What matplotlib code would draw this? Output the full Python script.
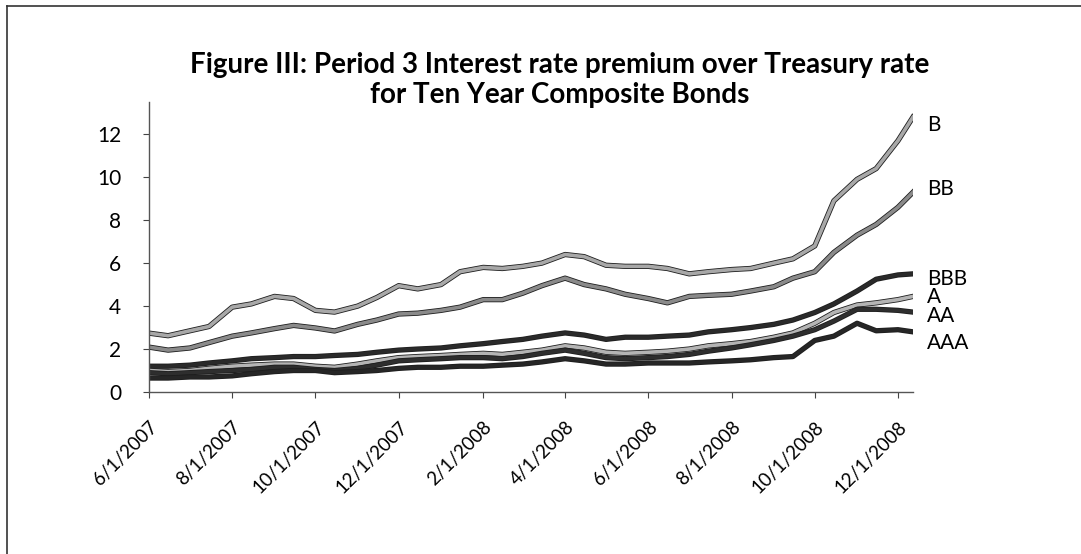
import matplotlib
matplotlib.use('Agg')
import matplotlib.pyplot as plt
import matplotlib.dates as mdates
import matplotlib.patheffects as pe
from matplotlib.lines import Line2D
from matplotlib.transforms import blended_transform_factory
import pandas as pd

# 半月采样的日期
dates = pd.to_datetime([
    '2007-06-01', '2007-06-15', '2007-07-01', '2007-07-15', '2007-08-01', '2007-08-15',
    '2007-09-01', '2007-09-15', '2007-10-01', '2007-10-15', '2007-11-01', '2007-11-15',
    '2007-12-01', '2007-12-15', '2008-01-01', '2008-01-15', '2008-02-01', '2008-02-15',
    '2008-03-01', '2008-03-15', '2008-04-01', '2008-04-15', '2008-05-01', '2008-05-15',
    '2008-06-01', '2008-06-15', '2008-07-01', '2008-07-15', '2008-08-01', '2008-08-15',
    '2008-09-01', '2008-09-15', '2008-10-01', '2008-10-15', '2008-11-01', '2008-11-15',
    '2008-12-01', '2008-12-12',
])

b = [2.74, 2.62, 2.85, 3.05, 3.95, 4.1, 4.45, 4.35, 3.8, 3.72, 4.0, 4.4,
     4.95, 4.8, 5.0, 5.6, 5.8, 5.75, 5.85, 6.0, 6.4, 6.3, 5.9, 5.85,
     5.85, 5.75, 5.5, 5.6, 5.7, 5.75, 6.0, 6.2, 6.8, 8.9, 9.9, 10.4,
     11.7, 12.8]
bb = [2.09, 1.95, 2.05, 2.3, 2.6, 2.75, 2.95, 3.1, 2.98, 2.84, 3.15, 3.35,
      3.63, 3.67, 3.8, 3.95, 4.3, 4.3, 4.6, 4.95, 5.3, 5.0, 4.8, 4.55,
      4.35, 4.15, 4.45, 4.5, 4.55, 4.7, 4.9, 5.3, 5.6, 6.5, 7.3, 7.8,
      8.6, 9.3]
bbb = [1.2, 1.2, 1.25, 1.35, 1.45, 1.55, 1.6, 1.65, 1.65, 1.7, 1.75, 1.85,
       1.95, 2.0, 2.05, 2.15, 2.25, 2.35, 2.45, 2.6, 2.75, 2.65, 2.45, 2.55,
       2.55, 2.6, 2.65, 2.8, 2.9, 3.0, 3.15, 3.35, 3.7, 4.1, 4.7, 5.25,
       5.45, 5.5]
a = [1.0, 0.95, 1.0, 1.1, 1.2, 1.25, 1.3, 1.3, 1.2, 1.15, 1.3, 1.45,
     1.6, 1.65, 1.7, 1.75, 1.8, 1.75, 1.85, 1.95, 2.15, 2.05, 1.85, 1.8,
     1.85, 1.9, 2.0, 2.15, 2.25, 2.35, 2.55, 2.75, 3.2, 3.7, 4.05, 4.15,
     4.3, 4.45]
aa = [0.9, 0.85, 0.9, 0.95, 1.0, 1.05, 1.15, 1.15, 1.05, 1.0, 1.1, 1.25,
      1.45, 1.5, 1.55, 1.6, 1.6, 1.55, 1.65, 1.8, 1.95, 1.8, 1.6, 1.55,
      1.6, 1.65, 1.75, 1.9, 2.05, 2.2, 2.4, 2.6, 2.9, 3.3, 3.85, 3.85,
      3.8, 3.72]
aaa = [0.65, 0.65, 0.7, 0.7, 0.75, 0.85, 0.95, 1.0, 1.0, 0.9, 0.95, 1.0,
       1.1, 1.15, 1.15, 1.2, 1.2, 1.25, 1.3, 1.4, 1.55, 1.45, 1.3, 1.3,
       1.35, 1.35, 1.35, 1.4, 1.45, 1.5, 1.6, 1.65, 2.4, 2.6, 3.2, 2.85,
       2.9, 2.8]

ratings = ['B', 'BB', 'BBB', 'A', 'AA', 'AAA']
series = [b, bb, bbb, a, aa, aaa]
line_colors = ['#a8a8a8', '#8a8a8a', '#2a2a2a', '#b4b4b4', '#2e2e2e', '#262626']
label_pos = [12.45, 9.45, 5.25, 4.4, 3.55, 2.3]

tick_dates = pd.to_datetime([
    '2007-06-01', '2007-08-01', '2007-10-01', '2007-12-01', '2008-02-01',
    '2008-04-01', '2008-06-01', '2008-08-01', '2008-10-01', '2008-12-01',
])
tick_labels = ['6/1/2007', '8/1/2007', '10/1/2007', '12/1/2007', '2/1/2008',
               '4/1/2008', '6/1/2008', '8/1/2008', '10/1/2008', '12/1/2008']

plt.rcParams['font.family'] = ['Lato', 'DejaVu Sans']

fig = plt.figure(figsize=(10.81, 5.54), dpi=100)
ax = fig.add_axes([149 / 1081, 162 / 554, 764 / 1081, 290 / 554])

for vals, col in zip(series, line_colors):
    ax.plot(dates, vals, color=col, linewidth=2.6, solid_joinstyle='round',
            path_effects=[pe.Stroke(linewidth=3.8, foreground='#1e1e1e'), pe.Normal()])

ax.set_xlim(pd.Timestamp('2007-06-01'), pd.Timestamp('2008-12-12'))
ax.set_ylim(0, 13.5)
ax.set_yticks(range(0, 13, 2))
ax.tick_params(axis='y', labelsize=15, direction='out', length=4, pad=16, color='#444')
ax.set_xticks(mdates.date2num(tick_dates))
ax.set_xticklabels(tick_labels, rotation=45, ha='right', rotation_mode='anchor', fontsize=13.5)
ax.tick_params(axis='x', direction='out', length=4, pad=15, color='#444')

for side in ['top', 'right']:
    ax.spines[side].set_visible(False)
for side in ['left', 'bottom']:
    ax.spines[side].set_color('#555')
    ax.spines[side].set_linewidth(1.0)

# 右侧评级标签
trans = blended_transform_factory(ax.transAxes, ax.transData)
for name, y in zip(ratings, label_pos):
    ax.text(1.018, y, name, transform=trans, fontsize=15, va='center', ha='left', clip_on=False)

fig.text(560 / 1081, 1 - 80 / 554,
         'Figure III: Period 3 Interest rate premium over Treasury rate\nfor Ten Year Composite Bonds',
         ha='center', va='center', fontsize=20, fontweight='bold', linespacing=1.2)

# 外框
fig.add_artist(Line2D([7 / 1081, 7 / 1081], [0, 1 - 6 / 554], color='#333', linewidth=1.2))
fig.add_artist(Line2D([7 / 1081, 1], [1 - 6 / 554, 1 - 6 / 554], color='#333', linewidth=1.2))

fig.savefig('out.png', dpi=100)
